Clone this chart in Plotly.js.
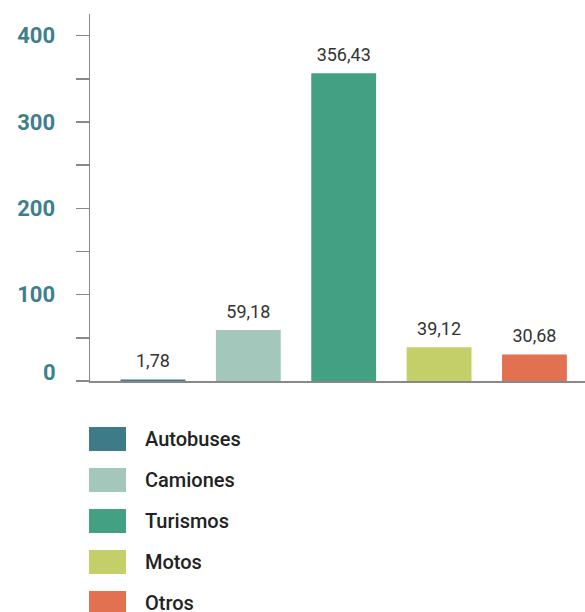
<!DOCTYPE html>
<html>
<head>
<meta charset="utf-8">
<script src="https://cdn.plot.ly/plotly-3.0.1.min.js"></script>
<style>html,body{margin:0;padding:0;background:#fff;}#chart{width:585px;height:612px;}</style>
</head>
<body>
<div id="chart"></div>
<script>
var categories = ["Autobuses", "Camiones", "Turismos", "Motos", "Otros"];
var values = [1.78, 59.18, 356.43, 39.12, 30.68];
var colors = ["#3e7b88", "#a3c8bb", "#43a082", "#c4cf6a", "#e27152"];
var yTicks = [0, 100, 200, 300, 400];

var W = 585, H = 612;
var M = {l: 90, r: 0, t: 14, b: 231};
var plotW = W - M.l - M.r, plotH = H - M.t - M.b;
function px(X) { return (X - M.l) / plotW; }
function py(Y) { return (H - M.b - Y) / plotH; }
var FONT = "Roboto, 'DejaVu Sans', sans-serif";

var bars = {
  type: "bar",
  x: categories,
  y: values,
  marker: {color: colors},
  width: 0.68,
  hoverinfo: "skip",
  showlegend: false
};

var labels = {
  type: "scatter",
  mode: "markers+text",
  x: categories,
  y: values,
  marker: {size: 11, opacity: 0},
  texttemplate: "%{y:.2f}",
  textposition: "top center",
  cliponaxis: false,
  textfont: {family: FONT, size: 18, color: "#333", weight: 400},
  hoverinfo: "skip",
  showlegend: false
};

var shapes = [], annotations = [];
categories.forEach(function (c, i) {
  var cy = 439 + i * 41;
  shapes.push({
    type: "rect", xref: "paper", yref: "paper",
    x0: px(89), x1: px(126), y0: py(cy + 12), y1: py(cy - 12),
    fillcolor: colors[i], line: {width: 0}
  });
  annotations.push({
    xref: "paper", yref: "paper", x: px(143), y: py(cy),
    xanchor: "left", yanchor: "middle", showarrow: false,
    text: c,
    font: {family: FONT, size: 20, color: "#222", weight: 500}
  });
});
// zero label sits slightly above its tick in the reference
annotations.push({
  xref: "paper", yref: "y", x: px(58), y: yTicks[0], yshift: 9,
  xanchor: "right", yanchor: "middle", showarrow: false,
  text: String(yTicks[0]),
  font: {family: FONT, size: 22, color: "#3e7f8c", weight: 700}
});

var layout = {
  width: W, height: H,
  margin: M,
  paper_bgcolor: "#fff", plot_bgcolor: "#fff",
  separators: ",.",
  showlegend: false,
  xaxis: {
    type: "category",
    range: [-0.66, 4.53],
    showline: true, linecolor: "#888", linewidth: 1.5,
    showticklabels: false, ticks: "", showgrid: false, zeroline: false
  },
  yaxis: {
    range: [0, 425],
    tickvals: yTicks,
    ticktext: yTicks.map(function (v) { return v === 0 ? "" : String(v); }),
    showline: true, linecolor: "#888", linewidth: 1.5,
    ticks: "outside", ticklen: 13, tickcolor: "#888", tickwidth: 1.5,
    minor: {tickvals: [50, 150, 250, 350], ticks: "outside", ticklen: 13, tickcolor: "#888", tickwidth: 1.5},
    ticklabelstandoff: 16,
    tickfont: {family: FONT, size: 22, color: "#3e7f8c", weight: 700},
    showgrid: false, zeroline: false
  },
  shapes: shapes,
  annotations: annotations
};

Plotly.newPlot("chart", [bars, labels], layout, {displayModeBar: false, staticPlot: true});
</script>
</body>
</html>
